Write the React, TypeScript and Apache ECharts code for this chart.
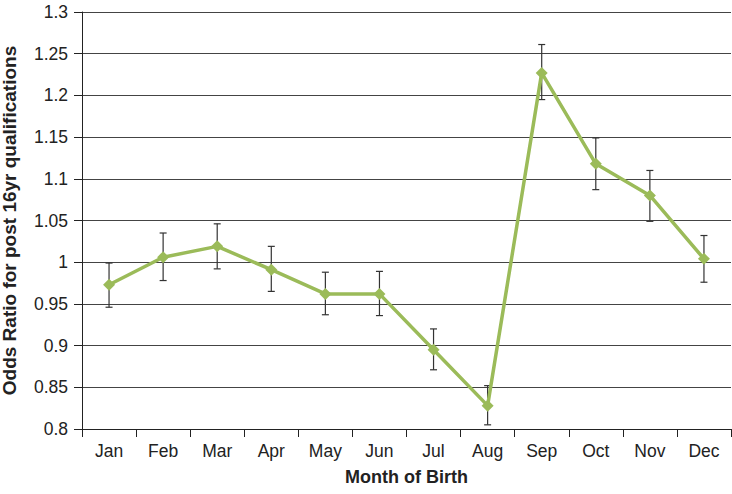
import React, { useEffect, useRef } from "react";
import * as echarts from "echarts";

const months = ["Jan", "Feb", "Mar", "Apr", "May", "Jun", "Jul", "Aug", "Sep", "Oct", "Nov", "Dec"];
const oddsRatio = [0.973, 1.006, 1.019, 0.991, 0.962, 0.962, 0.895, 0.828, 1.227, 1.118, 1.08, 1.004];
const lowerCI = [0.946, 0.978, 0.992, 0.965, 0.937, 0.936, 0.871, 0.805, 1.195, 1.087, 1.049, 0.976];
const upperCI = [0.999, 1.035, 1.046, 1.019, 0.988, 0.989, 0.92, 0.852, 1.261, 1.149, 1.11, 1.032];

const FONT = "Liberation Sans, Arial, sans-serif";

export default function App() {
  const ref = useRef<HTMLDivElement>(null);
  useEffect(() => {
    if (!ref.current) return;
    const chart = echarts.init(ref.current, null, { renderer: "svg" });
    const errData = months.map((_, i) => [i, lowerCI[i], upperCI[i]]);
    chart.setOption({
      animation: false,
      backgroundColor: "#ffffff",
      grid: { left: 82, right: 1, top: 12, bottom: 65, containLabel: false, outerBoundsMode: "none" },
      xAxis: {
        type: "category",
        data: months,
        boundaryGap: true,
        name: "Month of Birth",
        nameLocation: "middle",
        nameGap: 39,
        nameTextStyle: { fontFamily: FONT, fontSize: 18, fontWeight: "bold", color: "#222" },
        axisLine: { lineStyle: { color: "#222", width: 1 } },
        axisTick: { show: true, length: 8, lineStyle: { color: "#222" } },
        axisLabel: { fontFamily: FONT, fontSize: 17.5, color: "#222", margin: 13 },
        splitLine: { show: false },
      },
      yAxis: {
        type: "value",
        min: 0.8,
        max: 1.3,
        interval: 0.05,
        name: "Odds Ratio for post 16yr qualifications",
        nameLocation: "middle",
        nameGap: 63,
        nameTextStyle: { fontFamily: FONT, fontSize: 19, fontWeight: "bold", color: "#222" },
        axisLine: { show: true, lineStyle: { color: "#222", width: 1 } },
        axisTick: { show: true, length: 8, lineStyle: { color: "#222" } },
        axisLabel: {
          fontFamily: FONT,
          fontSize: 17.5,
          color: "#222",
          margin: 14,
          formatter: (v: number) => String(parseFloat(v.toFixed(2))),
        },
        splitLine: { show: true, lineStyle: { color: "#444", width: 1 } },
      },
      series: [
        {
          type: "custom",
          z: 3,
          data: errData,
          renderItem: (params: any, api: any) => {
            const x = api.value(0);
            const lo = api.coord([x, api.value(1)]);
            const hi = api.coord([x, api.value(2)]);
            const cap = 3.5;
            const style = { stroke: "#333", lineWidth: 1.2 };
            return {
              type: "group",
              children: [
                { type: "line", shape: { x1: lo[0], y1: lo[1], x2: hi[0], y2: hi[1] }, style },
                { type: "line", shape: { x1: lo[0] - cap, y1: lo[1], x2: lo[0] + cap, y2: lo[1] }, style },
                { type: "line", shape: { x1: hi[0] - cap, y1: hi[1], x2: hi[0] + cap, y2: hi[1] }, style },
              ],
            };
          },
        },
        {
          type: "line",
          z: 4,
          data: oddsRatio,
          symbol: "diamond",
          symbolSize: 12,
          lineStyle: { color: "#9bbb59", width: 3.5 },
          itemStyle: { color: "#9bbb59" },
        },
      ],
    });
    return () => chart.dispose();
  }, []);
  return <div ref={ref} style={{ width: 732, height: 494, position: "absolute", left: 0, top: 0 }} />;
}
